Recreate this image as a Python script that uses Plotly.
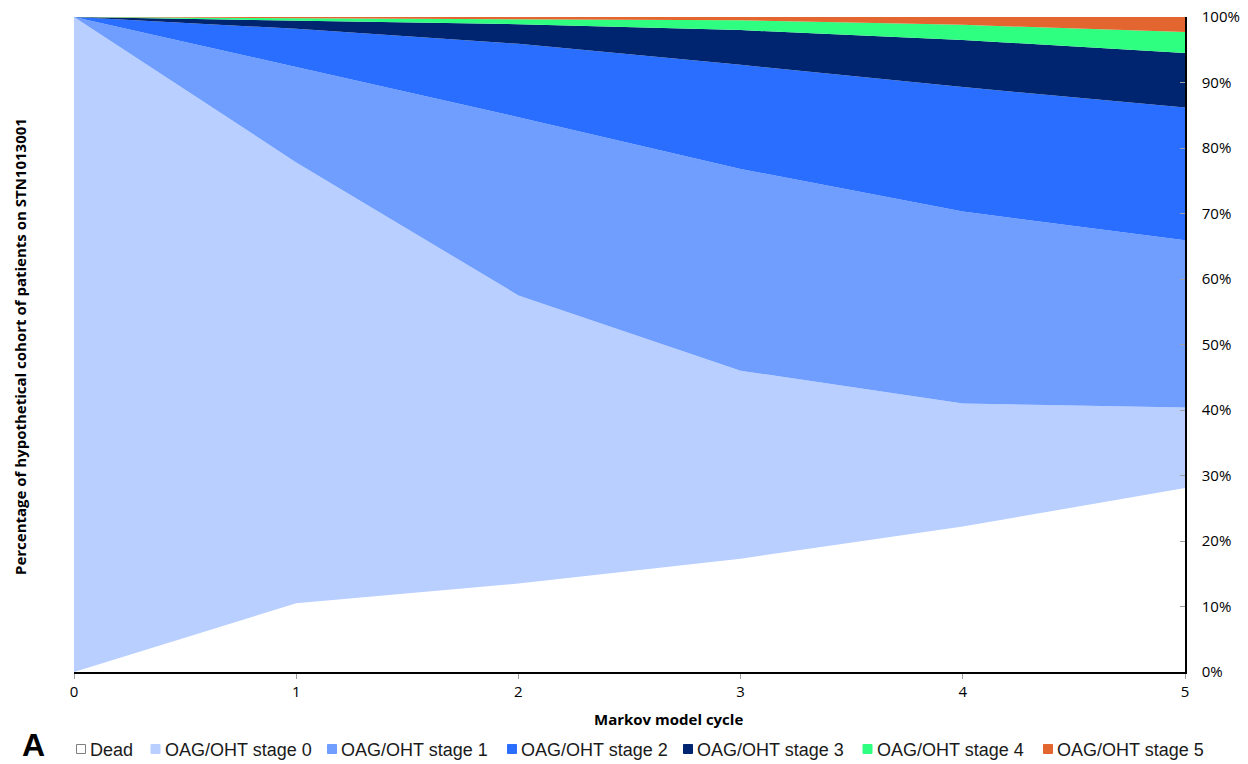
import plotly.graph_objects as go

cycles = [0, 1, 2, 3, 4, 5]
series_names = ["Dead", "OAG/OHT stage 0", "OAG/OHT stage 1", "OAG/OHT stage 2",
                "OAG/OHT stage 3", "OAG/OHT stage 4", "OAG/OHT stage 5"]
dead = [0, 10.5, 13.5, 17.3, 22.2, 28.1]
stage0 = [100, 67.3, 44.0, 28.7, 18.8, 12.3]
stage1 = [0, 14.6, 27.2, 30.8, 29.3, 25.5]
stage2 = [0, 5.8, 11.2, 15.9, 19.0, 20.3]
stage3 = [0, 1.3, 3.0, 5.3, 7.2, 8.3]
stage4 = [0, 0.3, 0.8, 1.5, 2.3, 3.2]
stage5 = [0, 0.2, 0.3, 0.5, 1.2, 2.3]
series_values = [dead, stage0, stage1, stage2, stage3, stage4, stage5]
colors = ["#FFFFFF", "#B9CFFF", "#6F9EFF", "#2A6EFF", "#002570", "#2EFF80", "#E36630"]
y_ticks = list(range(0, 101, 10))
y_tick_labels = [f"{v}%" for v in y_ticks]

# layout geometry (pixels); page body margin is removed in post_script
W, H = 1248, 764
ML, MR, MT, MB = 74, 63, 17, 92
PW, PH = W - ML - MR, H - MT - MB


def px_x(p):
    return (p - ML) / PW


def px_y(p):
    return (H - MB - p) / PH


fig = go.Figure()
for name, vals, col in zip(series_names, series_values, colors):
    fig.add_trace(go.Scatter(
        x=cycles, y=vals, name=name, mode="lines", stackgroup="one",
        line=dict(width=0, color=col), fillcolor=col, showlegend=False,
        hoverinfo="x+y+name"))

# custom legend (squares + labels) along the bottom
legend_marker_x = [81, 155.5, 332, 512, 688, 867.5, 1048]
legend_y = 749
shapes = []
annotations = []
for name, col, mx in zip(series_names, colors, legend_marker_x):
    shapes.append(dict(
        type="rect", xref="paper", yref="paper",
        x0=px_x(mx - 4.5), x1=px_x(mx + 4.5), y0=px_y(legend_y + 4.5), y1=px_y(legend_y - 4.5),
        fillcolor=col, line=dict(width=1, color="#7F7F7F" if col == "#FFFFFF" else col)))
    annotations.append(dict(
        text=name, xref="paper", yref="paper", x=px_x(mx + 7), y=px_y(legend_y + 1),
        xanchor="left", yanchor="middle", showarrow=False,
        font=dict(family="Liberation Sans, Arial, sans-serif", size=18, color="#1a1a1a")))

annotations += [
    dict(text="<b>Markov model cycle</b>", xref="paper", yref="paper",
         x=px_x(668), y=px_y(719), xanchor="center", yanchor="middle", showarrow=False,
         font=dict(family="Open Sans, sans-serif", size=15)),
    dict(text="<b>Percentage of hypothetical cohort of patients on STN1013001</b>",
         xref="paper", yref="paper", x=px_x(20), y=px_y(347),
         xanchor="center", yanchor="middle", showarrow=False, textangle=-90,
         font=dict(family="Open Sans, sans-serif", size=15)),
    dict(text="<b>A</b>", xref="paper", yref="paper", x=px_x(33), y=px_y(745),
         xanchor="center", yanchor="middle", showarrow=False,
         font=dict(family="Liberation Sans, Arial, sans-serif", size=32)),
]

fig.update_layout(
    width=W, height=H,
    margin=dict(l=ML, r=MR, t=MT, b=MB, autoexpand=False),
    paper_bgcolor="white", plot_bgcolor="white",
    showlegend=False,
    font=dict(family="Open Sans, sans-serif", color="black"),
    xaxis=dict(range=[0, 5], tickvals=cycles, ticktext=[str(c) for c in cycles],
               showgrid=False, zeroline=False, showline=True, linecolor="black",
               linewidth=1.5, ticks="outside", ticklen=5, tickcolor="#A0A0A0",
               tickfont=dict(family="Open Sans, sans-serif", size=15)),
    yaxis=dict(range=[0, 100], side="right", tickvals=y_ticks, ticktext=y_tick_labels,
               showgrid=False, zeroline=False, showline=True, linecolor="black",
               linewidth=1.5, ticks="inside", ticklen=5, tickcolor="#A0A0A0",
               tickfont=dict(family="Open Sans, sans-serif", size=15), ticklabelstandoff=12),
    shapes=shapes,
    annotations=annotations,
)

fig.write_html("out.html", config={"displayModeBar": False},
               post_script="document.body.style.margin='0px';document.body.style.overflow='hidden';")
